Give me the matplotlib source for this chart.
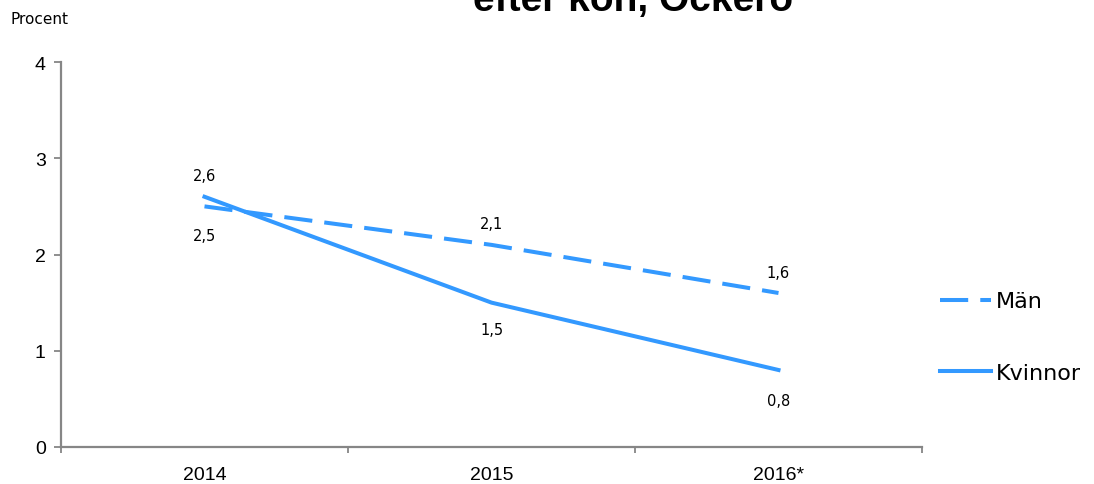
import matplotlib.pyplot as plt

plt.rcParams['font.family'] = ['DejaVu Sans']

years = ['2014', '2015', '2016*']
man = [2.5, 2.1, 1.6]
kvinnor = [2.6, 1.5, 0.8]
man_labels = ['2,5', '2,1', '1,6']
kvinnor_labels = ['2,6', '1,5', '0,8']

blue = '#3399ff'
grey = '#868686'

fig = plt.figure(figsize=(10.94, 4.85), dpi=100)
ax = fig.add_axes([61 / 1094, 1 - 448 / 485, (922 - 61) / 1094, (448 - 63) / 485])

x = list(range(len(years)))
ax.plot(x, man, color=blue, lw=2.9, dashes=(7, 3), label='Män')
ax.plot(x, kvinnor, color=blue, lw=2.9, label='Kvinnor')

# data labels, pixel offsets from the point (positive = above)
man_off = [-29, 21, 21]
kv_off = [21, -27, -31]
for i in x:
    ax.annotate(man_labels[i], (i, man[i]), xytext=(0, man_off[i]), textcoords='offset pixels',
                ha='center', va='center', fontsize=10.5)
    ax.annotate(kvinnor_labels[i], (i, kvinnor[i]), xytext=(0, kv_off[i]), textcoords='offset pixels',
                ha='center', va='center', fontsize=10.5)

ax.set_xlim(-0.5, 2.5)
ax.set_ylim(0, 4)
ax.set_yticks([0, 1, 2, 3, 4])
ax.set_xticks([-0.5, 0.5, 1.5, 2.5])
ax.set_xticklabels([])
ax.set_xticks(x, minor=True)
ax.set_xticklabels(years, minor=True, family='Liberation Sans')
ax.tick_params(axis='x', which='minor', length=0, labelsize=14, pad=14)
ax.tick_params(axis='x', which='major', length=4, width=1.3, color=grey)
ax.tick_params(axis='y', length=5, width=1.3, color=grey, labelsize=14, pad=6)
plt.setp(ax.get_yticklabels(), family='Liberation Sans')
for s in ['top', 'right']:
    ax.spines[s].set_visible(False)
for s in ['left', 'bottom']:
    ax.spines[s].set_color(grey)
    ax.spines[s].set_linewidth(1.6)

fig.text(10 / 1094, 1 - 20 / 485, 'Procent', fontsize=11, va='center')
fig.text(633 / 1094, 1 - 11 / 485, 'efter kön, Öckerö', fontsize=28, fontweight='bold',
         ha='center', va='baseline', family='Liberation Sans')

ax.legend(loc='center left', bbox_to_anchor=(940 / 1094, 1 - 338 / 485),
          bbox_transform=fig.transFigure, frameon=False, fontsize=16,
          handlelength=2.3, handletextpad=0.2, labelspacing=2.3, borderaxespad=0,
          borderpad=0)

fig.savefig('out.png', dpi=100)
